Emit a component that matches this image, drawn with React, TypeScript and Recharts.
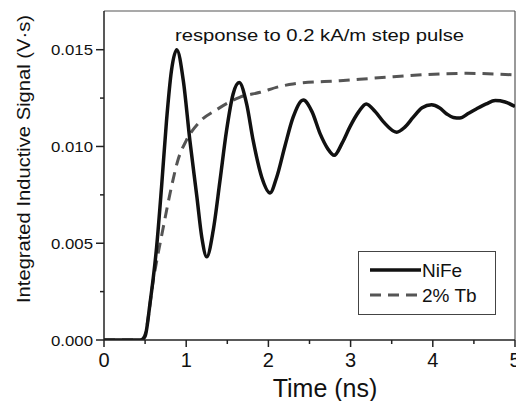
import React from 'react';
import { LineChart, Line, XAxis, YAxis, ReferenceLine, Legend } from 'recharts';

const FONT = '"Liberation Sans", Arial, Helvetica, sans-serif';

const nifeTimes = [0, 0.2, 0.45, 0.5, 0.56, 0.64, 0.7, 0.76, 0.82, 0.885, 0.965, 1.045, 1.13, 1.19, 1.25, 1.33, 1.41, 1.49, 1.57, 1.645, 1.735, 1.815, 1.92, 2.02, 2.1, 2.2, 2.3, 2.425, 2.53, 2.63, 2.72, 2.8, 2.9, 2.99, 3.1, 3.19, 3.3, 3.4, 3.56, 3.66, 3.76, 3.87, 3.985, 4.08, 4.17, 4.25, 4.33, 4.43, 4.53, 4.65, 4.76, 4.88, 5.0];
const nifeValues = [0, 0, 0, 0.0002, 0.0019, 0.0048, 0.0079, 0.0113, 0.0139, 0.015, 0.0134, 0.0103, 0.0074, 0.0053, 0.0043, 0.0057, 0.0082, 0.0108, 0.0127, 0.0133, 0.0122, 0.0103, 0.0084, 0.0076, 0.0084, 0.01, 0.0115, 0.0124, 0.0118, 0.01065, 0.0099, 0.00954, 0.0102, 0.011, 0.0118, 0.0122, 0.0118, 0.01127, 0.01074, 0.011, 0.0115, 0.012, 0.01215, 0.012, 0.01168, 0.0115, 0.01147, 0.0117, 0.01194, 0.0122, 0.01237, 0.0123, 0.01206];

const tbTimes = [0, 0.2, 0.45, 0.5, 0.6, 0.72, 0.82, 0.9, 1.0, 1.17, 1.37, 1.65, 1.9, 2.14, 2.3, 2.87, 3.52, 4.09, 4.41, 5.0];
const tbValues = [0, 0, 0, 0.0003, 0.0031, 0.0058, 0.0079, 0.0093, 0.0103, 0.0113, 0.0119, 0.01254, 0.0128, 0.0131, 0.01323, 0.0134, 0.0136, 0.01375, 0.01378, 0.0137];

const xTicks = [0, 0.5, 1, 1.5, 2, 2.5, 3, 3.5, 4, 4.5, 5];
const yTicks = [0, 0.0025, 0.005, 0.0075, 0.01, 0.0125, 0.015];

const nifeData = nifeTimes.map((t, i) => ({ t, v: nifeValues[i] }));
const tbData = tbTimes.map((t, i) => ({ t, v: tbValues[i] }));

const XTick = (props: any) => {
  const { x, y, payload } = props;
  const v = payload.value;
  const major = Math.abs(v - Math.round(v)) < 1e-6;
  return (
    <g>
      <line x1={x} x2={x} y1={y} y2={y + (major ? 7 : 4)} stroke="#222" strokeWidth={1.5} />
      {major && (
        <text x={x} y={y + 27} textAnchor="middle" fontSize={20} fill="#111" fontFamily={FONT}>
          {String(Math.round(v))}
        </text>
      )}
    </g>
  );
};

const YTick = (props: any) => {
  const { x, y, payload } = props;
  const v = payload.value;
  const major = Math.abs(v / 0.005 - Math.round(v / 0.005)) < 1e-6;
  return (
    <g>
      <line x1={x} x2={x - (major ? 8 : 4)} y1={y} y2={y} stroke="#222" strokeWidth={1.5} />
      {major && (
        <text x={x - 11} y={y + 5.5} textAnchor="end" fontSize={15.5} fill="#111" fontFamily={FONT}
          textLength={42} lengthAdjust="spacingAndGlyphs">
          {v.toFixed(3)}
        </text>
      )}
    </g>
  );
};

const renderLegend = () => (
  <svg width={138} height={64} style={{ display: 'block' }}>
    <rect x={0.5} y={0.5} width={137} height={63} fill="#fff" stroke="#444" strokeWidth={1} />
    <line x1={12} x2={63} y1={19} y2={19} stroke="#111" strokeWidth={3.5} />
    <text x={64} y={26} fontSize={19} fill="#111" fontFamily={FONT}>NiFe</text>
    <line x1={12} x2={63} y1={44} y2={44} stroke="#555" strokeWidth={3} strokeDasharray="11 7" />
    <text x={64} y={51} fontSize={19} fill="#111" fontFamily={FONT}>2% Tb</text>
  </svg>
);

export default function App() {
  return (
    <div style={{ position: 'fixed', left: 0, top: 0, width: 516, height: 401, background: '#fff' }}>
      <LineChart width={516} height={401} margin={{ top: 11, right: 1, bottom: 0, left: 0 }}>
        <XAxis
          dataKey="t"
          type="number"
          domain={[0, 5]}
          ticks={xTicks}
          interval={0}
          height={61}
          tickSize={0}
          tickMargin={0}
          tickLine={false}
          tick={<XTick />}
          axisLine={{ stroke: '#222', strokeWidth: 1.5 }}
          allowDataOverflow
          label={{
            content: () => (
              <text x={325} y={397} textAnchor="middle" fontSize={25} fill="#111" fontFamily={FONT}>
                Time (ns)
              </text>
            ),
          }}
        />
        <YAxis
          type="number"
          domain={[0, 0.017]}
          ticks={yTicks}
          interval={0}
          width={104}
          tickSize={0}
          tickMargin={0}
          tickLine={false}
          tick={<YTick />}
          axisLine={{ stroke: '#222', strokeWidth: 1.5 }}
          allowDataOverflow
          label={{
            content: () => (
              <text x={30} y={159} transform="rotate(-90, 30, 159)" textAnchor="middle" fontSize={18}
                fill="#111" fontFamily={FONT} textLength={288} lengthAdjust="spacingAndGlyphs">
                Integrated Inductive Signal (V·s)
              </text>
            ),
          }}
        />
        <ReferenceLine
          y={0.017}
          stroke="#555"
          strokeWidth={1.2}
          label={{
            content: () => (
              <text x={175} y={41} fontSize={17} fill="#111" fontFamily={FONT}
                textLength={289} lengthAdjust="spacingAndGlyphs">
                response to 0.2 kA/m step pulse
              </text>
            ),
          }}
        />
        <ReferenceLine x={5} stroke="#555" strokeWidth={1.2} />
        <Legend
          layout="horizontal"
          verticalAlign="middle"
          align="center"
          content={renderLegend}
          wrapperStyle={{ left: 358, top: 251, width: 138, height: 64 }}
        />
        <Line
          data={tbData}
          dataKey="v"
          name="2% Tb"
          type="monotone"
          stroke="#555"
          strokeWidth={3}
          strokeDasharray="11 7"
          dot={false}
          activeDot={false}
          isAnimationActive={false}
        />
        <Line
          data={nifeData}
          dataKey="v"
          name="NiFe"
          type="monotone"
          stroke="#111"
          strokeWidth={3.5}
          dot={false}
          activeDot={false}
          isAnimationActive={false}
        />
      </LineChart>
    </div>
  );
}
